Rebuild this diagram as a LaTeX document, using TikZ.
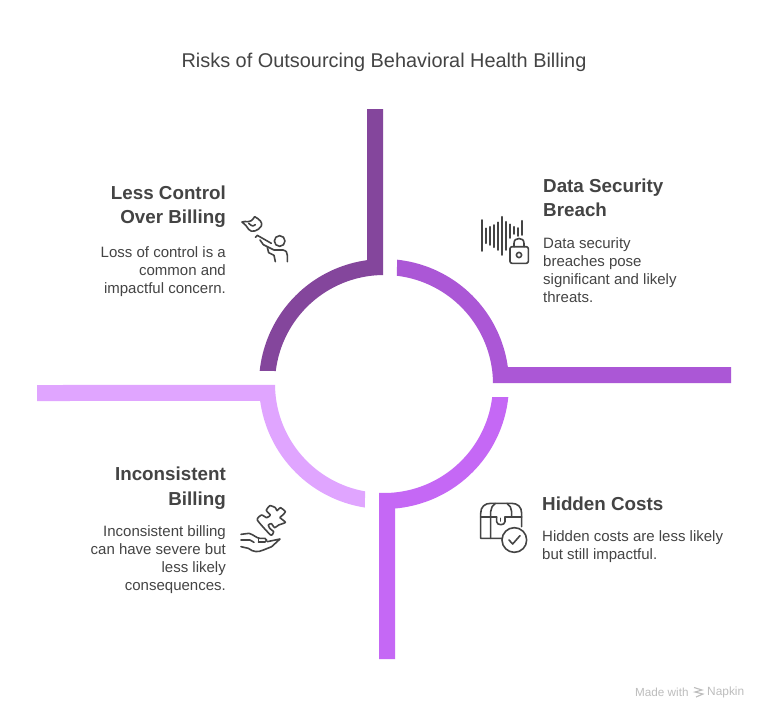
\documentclass[tikz,border=0pt]{standalone}
\usepackage{fontspec}
\setmainfont{Liberation Sans}
\definecolor{cA}{HTML}{84469C}
\definecolor{cB}{HTML}{AB57D6}
\definecolor{cC}{HTML}{C568F5}
\definecolor{cD}{HTML}{E0A5FF}
\definecolor{ink}{HTML}{444444}
\definecolor{foot}{HTML}{BDBDBD}
\tikzset{
 head/.style={font=\fontsize{18.8}{24.5}\selectfont\bfseries,text=ink,inner sep=0pt},
 body/.style={font=\fontsize{15}{18.1}\selectfont,text=ink,inner sep=0pt},
 icon/.style={draw=ink,line width=1.6pt,line cap=round,line join=round,fill=none},
 zoomed/.style={x=0.33333pt,y=-0.33333pt},
}
\begin{document}
\begin{tikzpicture}[x=1pt,y=-1pt,samples=40]
\useasboundingbox (0,0) rectangle (768,720);
\fill[white] (0,0) rectangle (768,720);
% ring
\fill[cA] (367,109) -- (383,109) -- plot[domain=269.5:186.85] ({384+109*cos(\x)},{384+109*sin(\x)}) -- plot[domain=186:262.2] ({384+125*cos(\x)},{384+125*sin(\x)}) -- cycle;
\fill[cB] (731,367) -- (731,383) -- plot[domain=-0.5:-83.2] ({384+109*cos(\x)},{384+109*sin(\x)}) -- plot[domain=-84:-7.8] ({384+125*cos(\x)},{384+125*sin(\x)}) -- cycle;
\fill[cC] (395,659) -- (379,659) -- plot[domain=92.6:6.85] ({384+109*cos(\x)},{384+109*sin(\x)}) -- plot[domain=6:84.9] ({384+125*cos(\x)},{384+125*sin(\x)}) -- cycle;
\fill[cD] (37,401) -- (37,385) -- plot[domain=179.5:100] ({384+109*cos(\x)},{384+109*sin(\x)}) -- plot[domain=98.8:172.2] ({384+125*cos(\x)},{384+125*sin(\x)}) -- cycle;
% title
\node[font=\fontsize{19.9}{22}\selectfont,text=ink,inner sep=0pt] (title) at (384,62) {Risks of Outsourcing Behavioral Health Billing};
% texts
\node[head,align=right,anchor=east] (h1) at (226,206.5) {Less Control\\Over Billing};
\node[body,align=right,anchor=east] (b1) at (226,271.5) {Loss of control is a\\common and\\impactful concern.};
\node[head,align=left,anchor=west] (h2) at (543,198) {Data Security\\Breach};
\node[body,align=left,anchor=west] (b2) at (543,270) {Data security\\breaches pose\\significant and likely\\threats.};
\node[head,align=left,anchor=west] (h3) at (542,504) {Hidden Costs};
\node[body,align=left,anchor=west] (b3) at (542,546.5) {Hidden costs are less likely\\but still impactful.};
\node[head,align=right,anchor=east] (h4) at (226,488) {Inconsistent\\Billing};
\node[body,align=right,anchor=east] (b4) at (226,559.5) {Inconsistent billing\\can have severe but\\less likely\\consequences.};
% footer
\node[font=\fontsize{11.7}{13}\selectfont,text=foot,inner sep=0pt,anchor=west] (made) at (635,692.5) {Made with};
\node[font=\fontsize{11.9}{13}\selectfont,text=foot,inner sep=0pt,anchor=west] (napkin) at (707,692.5) {Napkin};
\draw[foot,line width=1.1pt] (694,687.5) -- (702,690) -- (695,692) -- (703,694) -- (696,697);
% icon 1
\begin{scope}[shift={(238,210)},zoomed]
\draw[icon] (12,36) .. controls (25,30) and (35,45) .. (50,20) .. controls (65,28) and (75,38) .. (70,48) .. controls (62,62) and (40,70) .. (32,58) .. controls (28,50) and (20,42) .. (12,36);
\draw[icon] (32,40) .. controls (42,50) and (50,50) .. (52,44);
\draw[icon] (125,93) circle[radius=16];
\draw[icon] (52,82) -- (58,76) -- (100,100);
\draw[icon] (66,90) -- (76,104) -- (108,120) -- (135,120) .. controls (145,122) and (148,128) .. (148,136) -- (148,155);
\draw[icon] (88,112) -- (92,128) -- (108,136) -- (112,155);
\end{scope}
% icon 2
\draw[icon] (481.7,220) -- (481.7,251) (485.7,228.3) -- (485.7,243.3) (489.7,226.7) -- (489.7,245)
 (493.7,225) -- (493.7,247.3) (497.7,222.3) -- (497.7,250) (502,216.7) -- (502,255)
 (506,221.7) -- (506,250) (510,224.3) -- (510,238) (514,226.7) -- (514,234) (518,228) -- (518,236) (522,220.7) -- (522,235);
\draw[icon,rounded corners=2pt] (510,246.7) rectangle (528.3,263.3);
\draw[icon] (514,246.7) -- (514,243.5) .. controls (514,240) and (516,238.5) .. (519,238.5) .. controls (522,238.5) and (524,240) .. (524,243.5) -- (524,246.7);
\draw[icon] (519,255) circle[radius=2.6];
% icon 3
\begin{scope}[shift={(470,495)},zoomed]
\draw[icon] (95,130) -- (32,130) -- (32,55) .. controls (32,35) and (45,25) .. (62,25) -- (125,25) .. controls (142,25) and (155,35) .. (155,55) -- (155,95);
\draw[icon] (32,66) -- (80,66) (105,66) -- (155,66);
\draw[icon] (62,130) -- (62,50) .. controls (62,40) and (68,30) .. (76,25);
\draw[icon] (125,66) -- (125,50) .. controls (125,40) and (119,30) .. (111,25);
\draw[icon] (80,66) -- (80,80) .. controls (80,92) and (105,92) .. (105,80) -- (105,66);
\draw[icon] (92,70) -- (92,78);
\draw[icon] (133,135) circle[radius=37];
\draw[icon] (117,135) -- (128,147) -- (150,122);
\end{scope}
% icon 4
\begin{scope}[shift={(230,495)},zoomed]
\draw[icon] plot[smooth cycle,tension=0.35] coordinates {(82,75) (95,60) (110,68) (121,60) (109,46) (120,32) (136,38) (141,47) (151,38) (166,50) (156,62) (150,68) (166,82) (146,90) (134,98) (124,86) (115,90) (120,101) (131,110) (122,120)};
\draw[icon] (33,118) -- (57,115) .. controls (70,118) and (80,130) .. (90,130) -- (105,130) .. controls (112,132) and (112,140) .. (105,141) -- (85,141);
\draw[icon] (33,135) -- (60,135) -- (72,142);
\draw[icon] (33,155) -- (55,160) .. controls (70,172) and (85,172) .. (100,165) -- (125,155) -- (150,132) -- (112,140);
\draw[icon] (85,130) -- (85,141);
\end{scope}
\end{tikzpicture}
\end{document}
